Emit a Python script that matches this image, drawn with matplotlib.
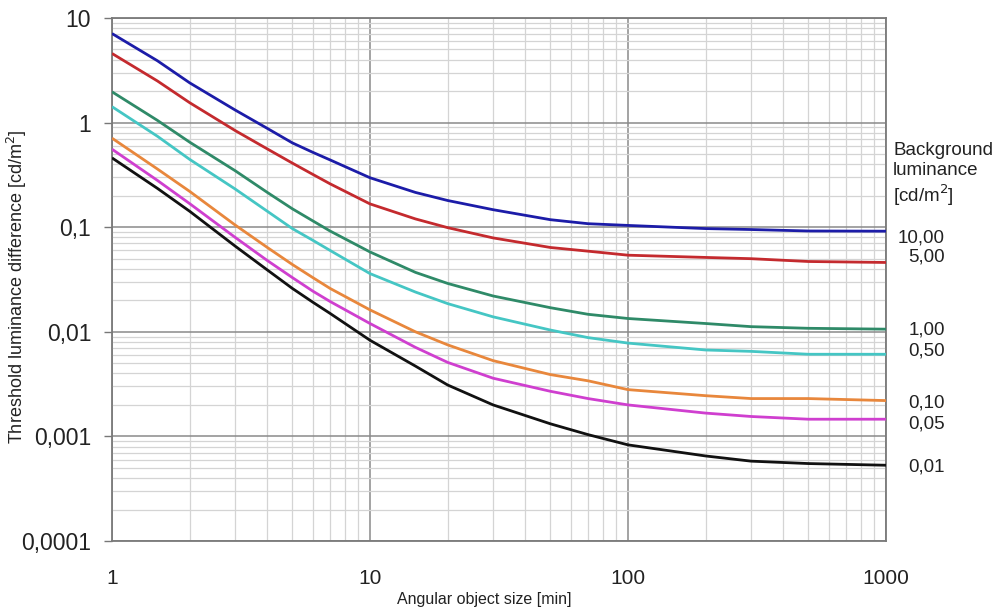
import numpy as np
import matplotlib
matplotlib.use("Agg")
import matplotlib.pyplot as plt
from matplotlib.ticker import LogLocator, NullFormatter

plt.rcParams["font.family"] = ["Liberation Sans", "DejaVu Sans"]

# angular object size [min]
size = [1, 1.5, 2, 3, 4, 5, 6, 7, 10, 15, 20, 30, 50, 70, 100, 200, 300, 500, 1000]

# threshold luminance difference [cd/m2] per background luminance
lum_10_00 = [7.1, 3.9, 2.4, 1.32, 0.88, 0.64, 0.52, 0.44, 0.297, 0.215, 0.18, 0.147, 0.118, 0.108, 0.104, 0.097, 0.095, 0.092, 0.0916]
lum_5_00 = [4.58, 2.5, 1.55, 0.84, 0.56, 0.41, 0.32, 0.26, 0.167, 0.12, 0.099, 0.079, 0.064, 0.059, 0.054, 0.0514, 0.05, 0.047, 0.046]
lum_1_00 = [1.97, 1.05, 0.65, 0.347, 0.215, 0.15, 0.115, 0.092, 0.058, 0.037, 0.029, 0.022, 0.017, 0.0147, 0.0134, 0.012, 0.0112, 0.0108, 0.0106]
lum_0_50 = [1.42, 0.74, 0.445, 0.232, 0.142, 0.097, 0.075, 0.06, 0.036, 0.024, 0.0186, 0.0139, 0.0104, 0.0088, 0.0078, 0.0067, 0.0065, 0.0061, 0.0061]
lum_0_10 = [0.71, 0.36, 0.22, 0.105, 0.064, 0.044, 0.033, 0.026, 0.0162, 0.010, 0.0075, 0.0053, 0.0039, 0.0034, 0.0028, 0.00245, 0.0023, 0.0023, 0.0022]
lum_0_05 = [0.557, 0.28, 0.168, 0.080, 0.048, 0.033, 0.0245, 0.0195, 0.012, 0.0071, 0.0051, 0.0036, 0.0027, 0.0023, 0.002, 0.00167, 0.00155, 0.00146, 0.00146]
lum_0_01 = [0.46, 0.235, 0.142, 0.066, 0.039, 0.026, 0.0192, 0.015, 0.0083, 0.0047, 0.0031, 0.002, 0.00132, 0.00104, 0.00083, 0.00065, 0.00058, 0.00055, 0.00053]

series = [lum_10_00, lum_5_00, lum_1_00, lum_0_50, lum_0_10, lum_0_05, lum_0_01]
series_labels = ["10,00", "5,00", "1,00", "0,50", "0,10", "0,05", "0,01"]
colors = ["#1c1ca8", "#c42a2e", "#2f8a68", "#45c6c4", "#e8873c", "#cf3fcf", "#111111"]

y_ticks = [0.0001, 0.001, 0.01, 0.1, 1, 10]
y_ticklabels = ["0,0001", "0,001", "0,01", "0,1", "1", "10"]
x_ticks = [1, 10, 100, 1000]
x_ticklabels = ["1", "10", "100", "1000"]

fig = plt.figure(figsize=(9.97, 6.14), dpi=100)
ax = fig.add_axes([112 / 997, 1 - 541 / 614, (886 - 112) / 997, (541 - 18) / 614])

for vals, c in zip(series, colors):
    ax.plot(size, vals, color=c, lw=2.0, solid_capstyle="butt", solid_joinstyle="round", zorder=3)

ax.set_xscale("log")
ax.set_yscale("log")
ax.set_xlim(1, 1000)
ax.set_ylim(0.0001, 10)

ax.set_xticks(x_ticks)
ax.set_xticklabels(x_ticklabels, fontsize=15)
ax.set_yticks(y_ticks)
ax.set_yticklabels(y_ticklabels, fontsize=16.5)
ax.xaxis.set_minor_locator(LogLocator(base=10, subs=np.arange(2, 10)))
ax.yaxis.set_minor_locator(LogLocator(base=10, subs=np.arange(2, 10)))
ax.xaxis.set_minor_formatter(NullFormatter())
ax.yaxis.set_minor_formatter(NullFormatter())
ax.tick_params(axis="x", which="major", length=0, pad=20, labelcolor="#222222")
ax.tick_params(axis="y", which="major", length=6, width=1, color="#777777", pad=9, labelcolor="#222222")
ax.tick_params(which="minor", length=0)

ax.grid(True, which="major", color="#8a8a8a", lw=1.1, zorder=1)
ax.grid(True, which="minor", color="#d4d4d4", lw=0.9, zorder=0)
for s in ax.spines.values():
    s.set_color("#7a7a7a")
    s.set_linewidth(1.3)

ax.set_xlabel("Angular object size [min]", fontsize=11.5, color="#222222")
ax.xaxis.set_label_coords((484 - 112) / 774, (541 - 592) / 523)
ax.set_ylabel("Threshold luminance difference [cd/m$^2$]", fontsize=13, color="#222222")
ax.yaxis.set_label_coords((29 - 112) / 774, (541 - 287) / 523)

# labels on the right side
fig.text(893 / 997, 1 - 142 / 614, "Background\nluminance\n[cd/m$^2$]", fontsize=13.5,
         ha="left", va="top", linespacing=1.2, color="#222222")
label_py = [238, 257, 330, 351, 403, 424, 467]
for lab, py in zip(series_labels, label_py):
    fig.text(945 / 997, 1 - py / 614, lab, fontsize=13.5, ha="right", va="center", color="#222222")

fig.savefig("out.png", dpi=100)
